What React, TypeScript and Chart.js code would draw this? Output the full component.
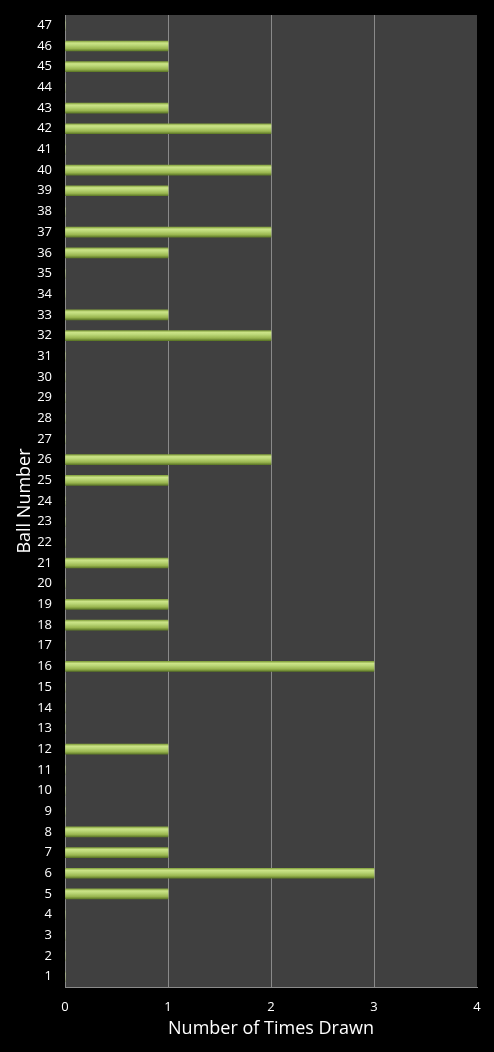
import { useEffect, useRef } from 'react';
import { Chart, registerables } from 'chart.js';

Chart.register(...registerables);

// ball numbers, bottom (1) to top (47)
const balls: string[] = Array.from({ length: 47 }, (_, i) => String(i + 1));

// times drawn, only the non-zero ones
const drawnBalls = [5, 6, 7, 8, 12, 16, 18, 19, 21, 25, 26, 32, 33, 36, 37, 39, 40, 42, 43, 45, 46];
const drawnCounts = [1, 3, 1, 1, 1, 3, 1, 1, 1, 1, 2, 2, 1, 1, 2, 1, 2, 2, 1, 1, 1];

const xTicks = [0, 1, 2, 3, 4];

const counts = balls.map((b) => {
  const i = drawnBalls.indexOf(Number(b));
  return i >= 0 ? drawnCounts[i] : 0;
});

const plotBg = {
  id: 'plotBg',
  beforeDraw(chart: Chart) {
    const { ctx, chartArea } = chart;
    ctx.save();
    ctx.fillStyle = '#404040';
    ctx.fillRect(chartArea.left, chartArea.top, chartArea.right - chartArea.left, chartArea.bottom - chartArea.top);
    ctx.restore();
  },
};

export default function App() {
  const canvasRef = useRef<HTMLCanvasElement>(null);
  const chartRef = useRef<Chart | null>(null);

  useEffect(() => {
    document.body.style.margin = '0';
    document.body.style.background = '#000';
    if (!canvasRef.current) return;
    if (chartRef.current) chartRef.current.destroy();

    const ctx = canvasRef.current.getContext('2d');
    if (!ctx) return;

    chartRef.current = new Chart(ctx, {
      type: 'bar',
      data: {
        labels: balls,
        datasets: [
          {
            data: counts,
            barThickness: 10,
            borderWidth: 0,
            backgroundColor: (c: any) => {
              const chart = c.chart;
              const y = chart.scales?.y;
              if (!y || c.dataIndex === undefined) return '#b0d060';
              const py = y.getPixelForValue(c.dataIndex);
              if (!Number.isFinite(py)) return '#b0d060';
              const g = chart.ctx.createLinearGradient(0, py + 5, 0, py - 5);
              g.addColorStop(0, '#5f7a28');
              g.addColorStop(0.25, '#9ab650');
              g.addColorStop(0.6, '#bcd878');
              g.addColorStop(0.8, '#cce488');
              g.addColorStop(1, '#86a440');
              return g;
            },
          },
        ],
      },
      options: {
        indexAxis: 'y',
        animation: false,
        responsive: false,
        layout: { padding: { left: 0, right: 17, top: 15, bottom: 0 } },
        plugins: {
          legend: { display: false },
          tooltip: { enabled: false },
        },
        scales: {
          x: {
            min: 0,
            max: 4,
            afterBuildTicks: (s: any) => {
              s.ticks = xTicks.map((v) => ({ value: v }));
            },
            afterFit: (s: any) => {
              s.height = 65;
              s.paddingRight = 0;
              s.paddingLeft = 0;
            },
            grid: {
              drawTicks: false,
              color: (c: any) => (c.tick && c.tick.value > 0 && c.tick.value < 4 ? '#8a8a8a' : 'rgba(0,0,0,0)'),
              lineWidth: 1,
            },
            border: { color: '#8a8a8a', width: 1 },
            ticks: {
              color: '#ffffff',
              padding: 12,
              font: { family: 'Open Sans', size: 13 },
            },
            title: {
              display: true,
              text: 'Number of Times Drawn',
              color: '#ffffff',
              font: { family: 'Open Sans', size: 18 },
              padding: { top: 0, bottom: 12 },
            },
          },
          y: {
            reverse: true,
            afterFit: (s: any) => {
              s.width = 65;
              s.paddingTop = 0;
              s.paddingBottom = 0;
            },
            grid: { display: false, drawTicks: false },
            border: { color: '#8a8a8a', width: 1 },
            ticks: {
              color: '#ffffff',
              padding: 13,
              autoSkip: false,
              font: { family: 'Open Sans', size: 13 },
            },
            title: {
              display: true,
              text: 'Ball Number',
              color: '#ffffff',
              font: { family: 'Open Sans', size: 18 },
              padding: { top: 14, bottom: 0 },
            },
          },
        },
      },
      plugins: [plotBg],
    });

    return () => {
      if (chartRef.current) {
        chartRef.current.destroy();
        chartRef.current = null;
      }
    };
  }, []);

  return (
    <div style={{ width: 494, height: 1052, background: '#000' }}>
      <canvas ref={canvasRef} width={494} height={1052}></canvas>
    </div>
  );
}
